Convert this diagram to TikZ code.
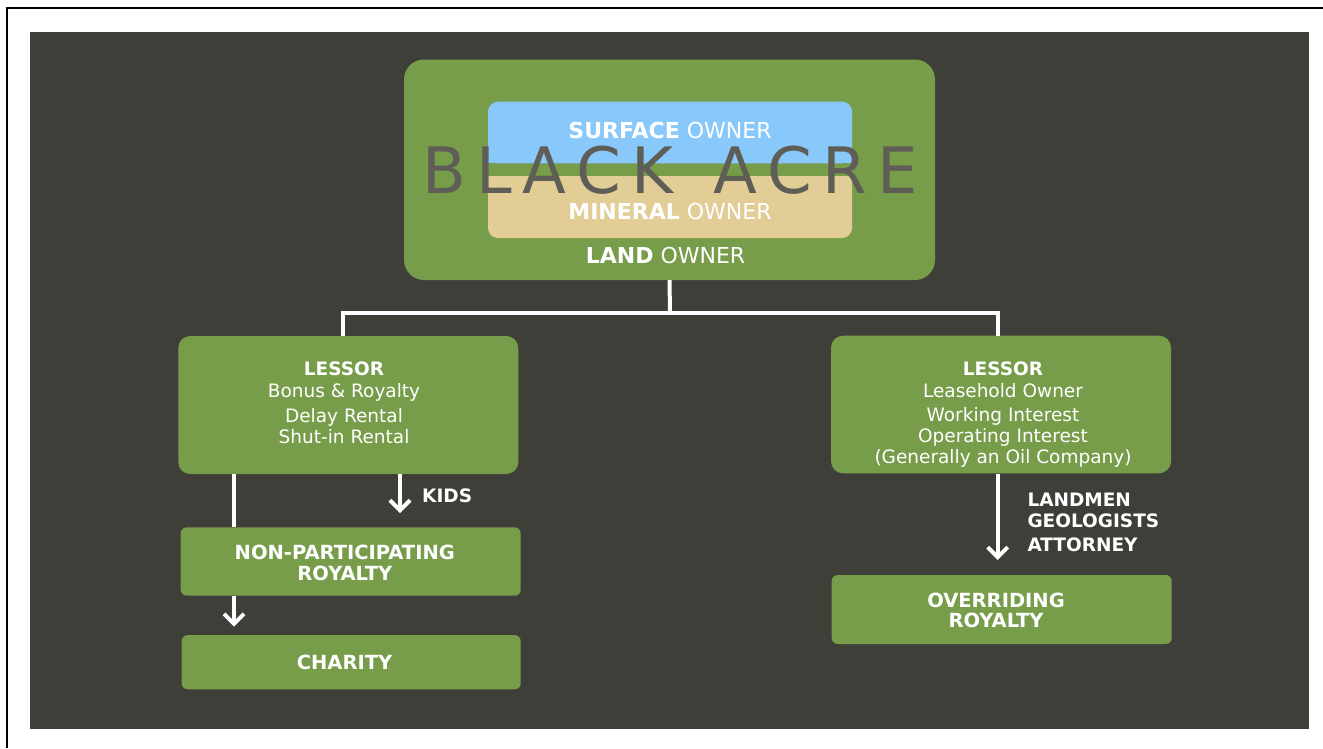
\documentclass[tikz,border=0pt]{standalone}
\usepackage{fontspec}
\setmainfont{DejaVu Sans}
\usetikzlibrary{arrows.meta}
\definecolor{bgdark}{HTML}{3F3F39}
\definecolor{leaf}{HTML}{789D4A}
\definecolor{sky}{HTML}{88C8FA}
\definecolor{sand}{HTML}{E2CD97}
\definecolor{acre}{HTML}{5E5E56}
\newcommand\acregap{\kern10.2pt}
\begin{document}
\begin{tikzpicture}[x=1pt,y=-1pt,
  gbox/.style={fill=leaf, draw=none, inner sep=0pt},
  conn/.style={draw=white, line width=4pt},
  arr/.style={conn, -{Straight Barb[length=10pt,width=20pt]}},
  txt/.style={text=white, inner sep=0pt, anchor=base, font=\fontsize{18.5}{22}\selectfont},
  btxt/.style={txt, font=\fontsize{18.5}{22}\selectfont\bfseries},
  ttxt/.style={txt, font=\fontsize{19.5}{22}\selectfont\bfseries},
  toptxt/.style={txt, font=\fontsize{22}{26}\selectfont},
]
\useasboundingbox (0,0) rectangle (1323,748);
\fill[white] (0,0) rectangle (1323,748);
\draw[line width=2.4pt] (7.2,748) -- (7.2,7.8) -- (1323,7.8);
\fill[bgdark] (30,32) rectangle (1309,729);

% top box
\node[gbox, minimum width=531pt, minimum height=220.5pt, rounded corners=20pt] (land) at (669.5,169.75) {};
\node[fill=sky, inner sep=0pt, minimum width=364pt, minimum height=61.6pt, rounded corners=10pt] (surf) at (670,132.5) {};
\fill[sky] (488,125) rectangle (852,163.3);
\node[fill=sand, inner sep=0pt, minimum width=364pt, minimum height=62pt, rounded corners=10pt] (mineral) at (670,207) {};
\fill[sand] (488,176) rectangle (852,215);
\node[toptxt] (surfT) at (670,138.3) {\textbf{SURFACE} OWNER};
\node[toptxt] (minT) at (670,219) {\textbf{MINERAL} OWNER};
\node[toptxt] (landT) at (665.5,263.3) {\textbf{LAND} OWNER};
\node[anchor=base, inner sep=0pt, text=acre, font=\fontsize{64}{70}\selectfont] (acreT) at (670,193.3)
  {B\acregap L\acregap A\acregap C\acregap K\acregap\ \acregap A\acregap C\acregap R\acregap E};

% boxes
\node[gbox, minimum width=340pt, minimum height=138pt, rounded corners=12pt] (lessorL) at (348.3,405) {};
\node[gbox, minimum width=340pt, minimum height=137.6pt, rounded corners=12pt] (lessorR) at (1001,404.5) {};
\node[gbox, minimum width=340pt, minimum height=68.4pt, rounded corners=6pt] (np) at (350.7,561.5) {};
\node[gbox, minimum width=339pt, minimum height=54.3pt, rounded corners=6pt] (charity) at (351.2,662.2) {};
\node[gbox, minimum width=340pt, minimum height=69pt, rounded corners=6pt] (orr) at (1001.7,609.5) {};

% box texts
\node[btxt] (lL1) at (344,375.7) {LESSOR};
\node[txt] (lL2) at (344,397.7) {Bonus \& Royalty};
\node[txt] (lL3) at (344,422.3) {Delay Rental};
\node[txt] (lL4) at (344,443.3) {Shut-in Rental};

\node[btxt] (lR1) at (1003,375.7) {LESSOR};
\node[txt] (lR2) at (1003,397.7) {Leasehold Owner};
\node[txt] (lR3) at (1003,421) {Working Interest};
\node[txt] (lR4) at (1003,442.3) {Operating Interest};
\node[txt] (lR5) at (1003,463.3) {(Generally an Oil Company)};

\node[ttxt] (np1) at (344.8,559) {NON-PARTICIPATING};
\node[ttxt] (np2) at (344.8,580) {ROYALTY};
\node[ttxt] (ch1) at (344.5,669) {CHARITY};
\node[ttxt] (or1) at (996,607.3) {OVERRIDING};
\node[ttxt] (or2) at (996,627.7) {ROYALTY};

\node[btxt, anchor=base west] (kids) at (422,502.7) {KIDS};
\node[btxt, anchor=base west] (lm1) at (1027.3,506) {LANDMEN};
\node[btxt, anchor=base west] (lm2) at (1027.3,527.3) {GEOLOGISTS};
\node[btxt, anchor=base west] (lm3) at (1027.3,551) {ATTORNEY};

% connectors
\coordinate (bus) at (670,313);
\draw[conn] (land.south) -- (bus);
\draw[conn] ([xshift=-5pt]lessorL.north) |- (bus) -| ([xshift=-3.3pt]lessorR.north);
\coordinate (xL) at (234,0);
\draw[conn] (lessorL.south -| xL) -- (np.north -| xL);
\coordinate (kidsEnd) at (400,513);
\draw[arr] (lessorL.south -| kidsEnd) -- (kidsEnd);
\coordinate (chEnd) at (234,626.7);
\draw[arr] (np.south -| chEnd) -- (chEnd);
\coordinate (orEnd) at (997.7,560);
\draw[arr] (lessorR.south -| orEnd) -- (orEnd);
\end{tikzpicture}
\end{document}
